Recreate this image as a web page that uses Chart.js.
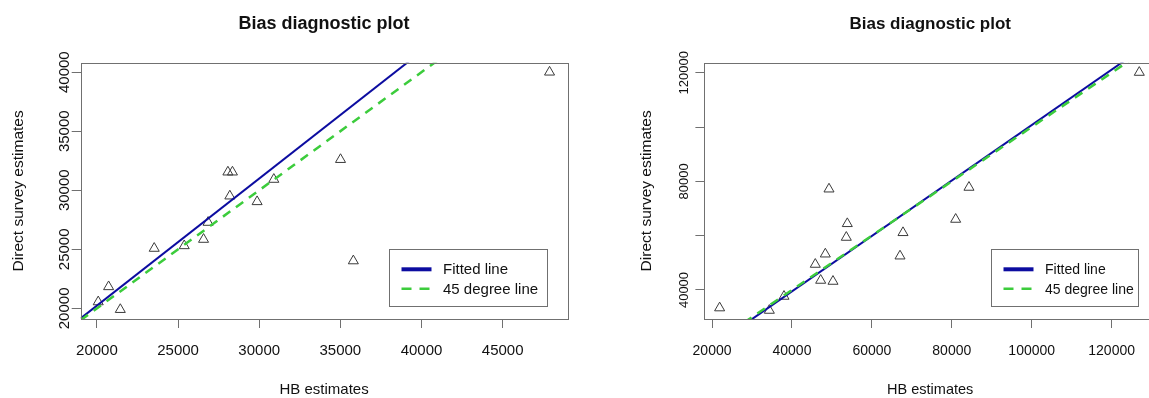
<!DOCTYPE html>
<html>
<head>
<meta charset="utf-8">
<title>Bias diagnostic plots</title>
<script src="https://cdn.jsdelivr.net/npm/chart.js@4.4.1/dist/chart.umd.min.js"></script>
<style>
  html, body { margin: 0; padding: 0; background: #fff; overflow: hidden; }
  body { width: 1149px; height: 398px; position: relative; }
  canvas { position: absolute; top: 0; }
  #left-plot { left: 0; }
  #right-plot { left: 590px; }
</style>
</head>
<body>
<canvas id="left-plot" width="600" height="398"></canvas>
<canvas id="right-plot" width="580" height="398"></canvas>
<script>
// Left panel data (HB estimate vs direct survey estimate)
const hbLeft = [20080, 20720, 21440, 23530, 25380, 26570, 26850, 28070, 28350, 28190, 29870, 30900, 35010, 35800, 47890];
const directLeft = [20550, 21830, 19900, 25080, 25300, 25840, 27280, 31540, 31540, 29510, 29030, 30920, 32600, 24020, 40000];
const fitLeft = [-1289, 1.076]; // intercept, slope
const xLimLeft = [19000, 48990];
const yLimLeft = [19100, 40800];
const xTicksLeft = [20000, 25000, 30000, 35000, 40000, 45000];
const yTicksLeft = [20000, 25000, 30000, 35000, 40000];
const yLabelsLeft = [20000, 25000, 30000, 35000, 40000];

// Right panel data
const hbRight = [21900, 34340, 38010, 45840, 48350, 47190, 50270, 49270, 53850, 53600, 67040, 67790, 80970, 84300, 126920];
const directRight = [33400, 32500, 37660, 49440, 53230, 43550, 43180, 77160, 64420, 59380, 52500, 61110, 66010, 77790, 120110];
const fitRight = [-1334, 1.0205];
const xLimRight = [18090, 131100];
const yLimRight = [29320, 123680];
const xTicksRight = [20000, 40000, 60000, 80000, 100000, 120000];
const yTicksRight = [40000, 60000, 80000, 100000, 120000];
const yLabelsRight = [40000, 80000, 120000];

const identityLine = [0, 1];
const legendLabels = ['Fitted line', '45 degree line'];

const FONT = "'Liberation Sans', Arial, sans-serif";
const BLUE = '#0c0ca0';
const GREEN = '#3ccc3c';

// end points of an abline across the x range (clipped by Chart.js)
function lineEnds(fit, xLim) {
    return xLim.map(x => ({ x: x, y: fit[0] + fit[1] * x }));
}

function makePanel(id, p) {
    const ctx = document.getElementById(id).getContext('2d');

    const textPlugin = {
        id: 'rtext',
        afterDraw(chart) {
            const c = chart.ctx;
            const area = chart.chartArea;
            const xs = chart.scales.x;
            const ys = chart.scales.y;
            c.save();

            // plot box
            c.strokeStyle = '#707070';
            c.lineWidth = 1;
            c.strokeRect(Math.round(area.left) + 0.5, Math.round(area.top) + 0.5,
                Math.round(area.right - area.left), Math.round(area.bottom - area.top));

            c.fillStyle = '#111';
            const cx = (area.left + area.right) / 2;
            const cy = (area.top + area.bottom) / 2;

            // title
            c.font = 'bold ' + p.titleSize + 'px ' + FONT;
            c.textAlign = 'center';
            c.textBaseline = 'alphabetic';
            c.fillText('Bias diagnostic plot', cx, 28.5);

            // x tick labels
            c.font = p.xTickSize + 'px ' + FONT;
            p.xTicks.forEach(v => c.fillText(String(v), xs.getPixelForValue(v), 355));

            // x title
            c.font = p.xTitleSize + 'px ' + FONT;
            c.fillText('HB estimates', cx, 394);

            // y tick labels, rotated like R's default
            c.font = p.yTickSize + 'px ' + FONT;
            p.yLabels.forEach(v => {
                c.save();
                c.translate(p.yTickX, ys.getPixelForValue(v));
                c.rotate(-Math.PI / 2);
                c.fillText(String(v), 0, 0);
                c.restore();
            });

            // y title
            c.font = p.yTitleSize + 'px ' + FONT;
            c.save();
            c.translate(p.yTitleX, cy);
            c.rotate(-Math.PI / 2);
            c.fillText('Direct survey estimates', 0, 0);
            c.restore();

            // legend (bottom right)
            const lr = area.right - p.legInsetX;
            const lb = area.bottom - 12.3;
            const lt = lb - 57.4;
            const ll = lr - p.legWidth;
            c.strokeStyle = '#707070';
            c.strokeRect(Math.round(ll) + 0.5, Math.round(lt) + 0.5, Math.round(lr - ll), Math.round(lb - lt));
            const rows = [lt + 20, lt + 39.5];
            const sx = ll + 12.5;
            c.lineCap = 'butt';
            c.strokeStyle = BLUE;
            c.lineWidth = 4;
            c.beginPath(); c.moveTo(sx, rows[0]); c.lineTo(sx + 30, rows[0]); c.stroke();
            c.strokeStyle = GREEN;
            c.lineWidth = 2.5;
            c.setLineDash([10, 8]);
            c.beginPath(); c.moveTo(sx, rows[1]); c.lineTo(sx + 30, rows[1]); c.stroke();
            c.setLineDash([]);
            c.font = p.legSize + 'px ' + FONT;
            c.textAlign = 'left';
            c.textBaseline = 'middle';
            c.fillText(legendLabels[0], sx + 41.5, rows[0] + 1);
            c.fillText(legendLabels[1], sx + 41.5, rows[1] + 1);
            c.restore();
        }
    };

    return new Chart(ctx, {
        type: 'scatter',
        data: {
            datasets: [
                {
                    label: legendLabels[1],
                    data: lineEnds(identityLine, p.xLim),
                    showLine: true,
                    borderColor: GREEN,
                    borderWidth: 2.5,
                    borderDash: [9, 7],
                    pointRadius: 0,
                    clip: 0
                },
                {
                    label: legendLabels[0],
                    data: lineEnds(p.fit, p.xLim),
                    showLine: true,
                    borderColor: BLUE,
                    borderWidth: 2,
                    pointRadius: 0,
                    clip: 0
                },
                {
                    label: 'Areas',
                    data: p.hb.map((v, i) => ({ x: v, y: p.direct[i] })),
                    pointStyle: 'triangle',
                    pointRadius: 5.8,
                    pointBorderWidth: 1,
                    pointBorderColor: '#3a3a3a',
                    pointBackgroundColor: 'rgba(0,0,0,0)'
                }
            ]
        },
        options: {
            responsive: false,
            animation: false,
            events: [],
            layout: { padding: { top: 62.7, right: p.padRight, bottom: 0, left: 0 } },
            plugins: {
                legend: { display: false },
                tooltip: { enabled: false }
            },
            scales: {
                x: {
                    type: 'linear',
                    min: p.xLim[0],
                    max: p.xLim[1],
                    afterBuildTicks: s => { s.ticks = p.xTicks.map(v => ({ value: v })); },
                    afterFit: s => { s.height = 79; },
                    ticks: { display: false },
                    grid: { drawOnChartArea: false, drawTicks: true, tickLength: 9, color: '#707070' },
                    border: { display: false }
                },
                y: {
                    type: 'linear',
                    min: p.yLim[0],
                    max: p.yLim[1],
                    afterBuildTicks: s => { s.ticks = p.yTicks.map(v => ({ value: v })); },
                    afterFit: s => { s.width = p.axisWidth; },
                    ticks: { display: false },
                    grid: { drawOnChartArea: false, drawTicks: true, tickLength: 9, color: '#707070' },
                    border: { display: false }
                }
            }
        },
        plugins: [textPlugin]
    });
}

makePanel('left-plot', {
    hb: hbLeft, direct: directLeft, fit: fitLeft,
    xLim: xLimLeft, yLim: yLimLeft,
    xTicks: xTicksLeft, yTicks: yTicksLeft, yLabels: yLabelsLeft,
    axisWidth: 80.7, padRight: 32.6,
    titleSize: 18, xTickSize: 15, xTitleSize: 15, yTickSize: 15, yTitleSize: 15.5,
    yTickX: 69, yTitleX: 23,
    legInsetX: 20.7, legWidth: 157.7, legSize: 15
});

makePanel('right-plot', {
    hb: hbRight, direct: directRight, fit: fitRight,
    xLim: xLimRight, yLim: yLimRight,
    xTicks: xTicksRight, yTicks: yTicksRight, yLabels: yLabelsRight,
    axisWidth: 114.4, padRight: 14,
    titleSize: 17, xTickSize: 14, xTitleSize: 14.5, yTickSize: 13, yTitleSize: 15.5,
    yTickX: 98, yTitleX: 61,
    legInsetX: 17.7, legWidth: 147.3, legSize: 14
});
</script>
</body>
</html>
